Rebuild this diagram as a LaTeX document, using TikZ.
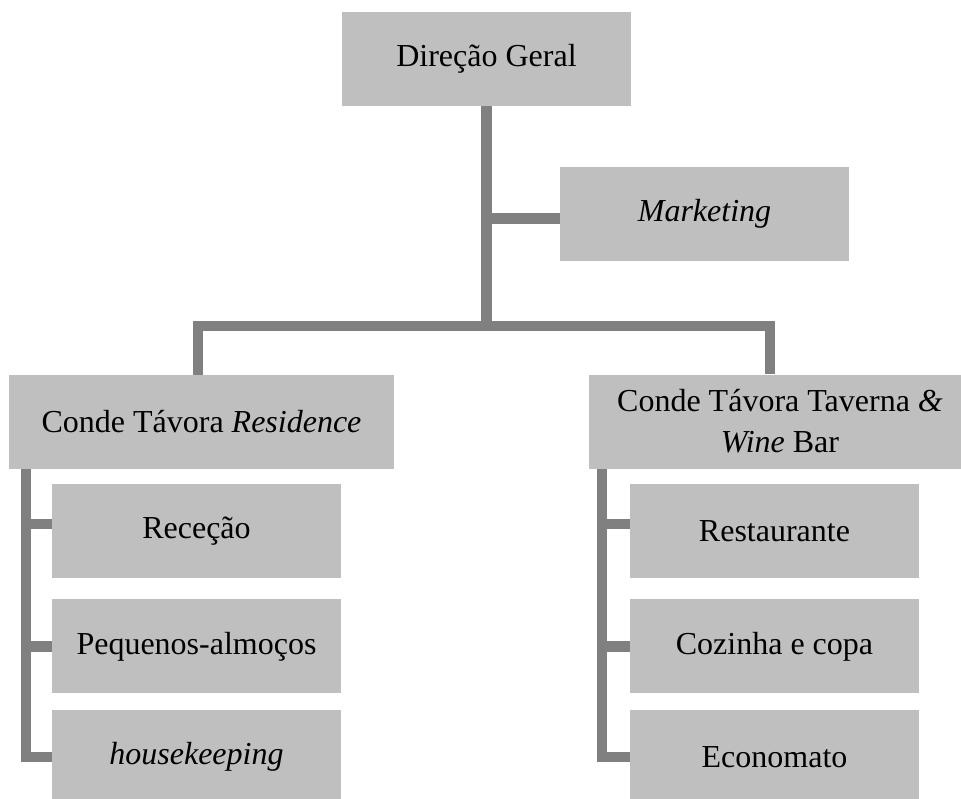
\documentclass[tikz,border=0pt]{standalone}
\usepackage{fontspec}
\setmainfont{Liberation Serif}
\usetikzlibrary{positioning}
\definecolor{boxgray}{RGB}{191,191,191}
\definecolor{linegray}{RGB}{128,128,128}
\tikzset{unit/.style={fill=boxgray,minimum width=289pt,minimum height=94pt,inner sep=0pt,align=center,font=\fontsize{32}{41}\selectfont}}
\tikzset{site/.style={unit,minimum width=385pt}}
\tikzset{branch/.style={draw=linegray,line width=10.5pt}}

\begin{document}
\begin{tikzpicture}[x=1pt,y=-1pt,node distance=19pt]
                    \useasboundingbox (0,0) rectangle (961,798);
                    \node[unit] (dir) at (486.5,58.5) {Direção Geral};
                    \node[unit] (mkt) at (704.5,214) {\textit{Marketing}};
                    \node[site] (res) at (201.5,422) {Conde Távora \textit{Residence}};
                    \node[site,minimum width=382pt] (tav) at (780,421.5) {Conde Távora Taverna \textit{\&}\\\textit{Wine} Bar};
                    \node[unit] (rec) at (196.5,531)        {Receção};
                    \node[unit] (peq) [below=21pt of rec]   {Pequenos-almoços};
                    \node[unit] (hk)  [below=16pt of peq]   {\textit{housekeeping}};
                    \node[unit] (rst) at (774.5,531)        {Restaurante};
                    \node[unit] (coz) [below=21pt of rst]   {Cozinha e copa};
                    \node[unit] (eco) [below=16pt of coz]   {Economato};
                    \coordinate (busy) at (0,326);
                    \coordinate (busL) at (198,326);
                    \coordinate (busR) at (770,326);
                    \coordinate (colL) at (26,0);
                    \coordinate (colR) at (602,0);
                    % top part
                    \draw[branch] (dir.south) -- (dir.south |- busy);
                    \draw[branch] ([yshift=-4.5pt]mkt.west) -- ([yshift=-4.5pt]mkt.west -| dir.south);
                    \draw[branch] (busL |- res.north) -- (busL) -- (busR) -- (busR |- tav.north);
                    % residence
                    \draw[branch] (colL |- res.south) -- (colL |- hk.west) -- (hk.west);
                    \draw[branch] ([yshift=7pt]rec.west) -- ([yshift=7pt]rec.west -| colL);
                    \draw[branch] (peq.west) -- (peq.west -| colL);
                    % taverna
                    \draw[branch] (colR |- tav.south) -- (colR |- eco.west) -- (eco.west);
                    \draw[branch] ([yshift=7pt]rst.west) -- ([yshift=7pt]rst.west -| colR);
                    \draw[branch] (coz.west) -- (coz.west -| colR);
                \end{tikzpicture}
\end{document}
